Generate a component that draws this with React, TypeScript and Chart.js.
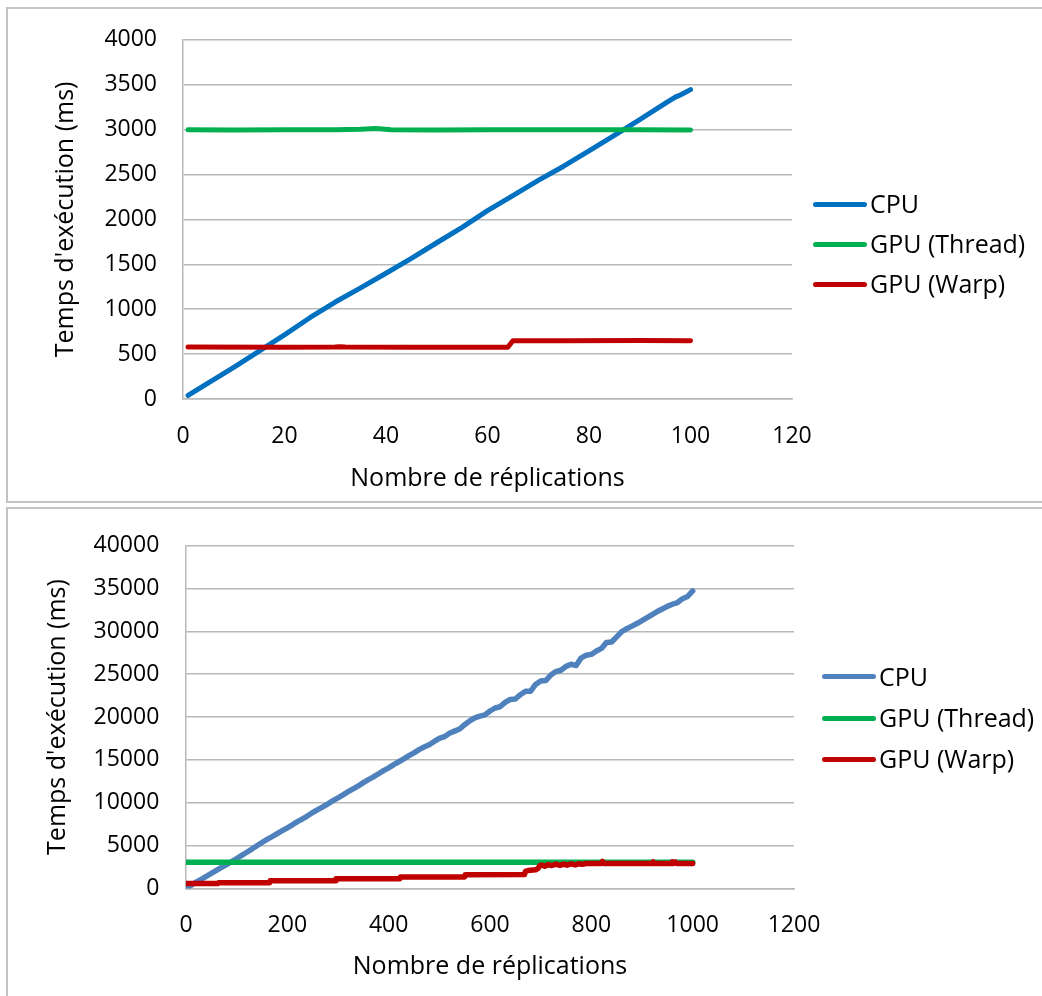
import React, { useEffect, useRef } from "react";
import { Chart, registerables } from "chart.js";

Chart.register(...registerables);

const FONT_FAMILY = "'Open Sans', 'Noto Sans', 'DejaVu Sans', sans-serif";
const TEXT_COLOR = "#000000";
const GRID_COLOR = "#B8B8B8";
const FRAME_COLOR = "#C4C4C4";
const TICK_SIZE = 23;
const TITLE_SIZE = 25;
const PAGE_W = 1042;

const SERIES_NAMES = ["CPU", "GPU (Thread)", "GPU (Warp)"];
const X_TITLE = "Nombre de réplications";
const Y_TITLE = "Temps d'exécution (ms)";

// ---------- Top chart (1 to 100 replications) ----------
const topCpuX = [1, 5, 10, 15, 20, 25, 30, 35, 40, 45, 50, 55, 60, 65, 70, 75, 80, 85, 90, 95, 97, 98, 100];
const topCpuY = [40, 180, 352, 532, 715, 905, 1080, 1238, 1400, 1566, 1740, 1912, 2097, 2265, 2434, 2592, 2764, 2935, 3112, 3293, 3362, 3386, 3445];

const topThreadX = [1, 10, 20, 30, 35, 38, 41, 50, 60, 70, 80, 90, 100];
const topThreadY = [2998, 2996, 2999, 2998, 3004, 3012, 2999, 2996, 2998, 2997, 2999, 2997, 2996];

const topWarpX = [1, 20, 30, 31, 32, 45, 64, 65, 75, 90, 100];
const topWarpY = [578, 577, 578, 582, 578, 576, 577, 648, 650, 652, 650];

const topXMax = 120;
const topXStep = 20;
const topYMax = 4000;
const topYStep = 500;

// ---------- Bottom chart (0 to 1000 replications) ----------
const bottomCpuX = [
  0, 10, 20, 30, 40, 50, 60, 70, 80, 90,
  100, 110, 120, 130, 140, 150, 160, 170, 180, 190,
  200, 210, 220, 230, 240, 250, 260, 270, 280, 290,
  300, 310, 320, 330, 340, 350, 360, 370, 380, 390,
  400, 410, 420, 430, 440, 450, 460, 470, 480, 490,
  500, 510, 520, 530, 540, 550, 560, 570, 580, 590,
  600, 610, 620, 630, 640, 650, 660, 670, 680, 690,
  700, 710, 720, 730, 740, 750, 760, 770, 780, 790,
  800, 810, 820, 830, 840, 850, 860, 870, 880, 890,
  900, 910, 920, 930, 940, 950, 960, 970, 980, 990,
  1000,
];
const bottomCpuY = [
  40, 380, 730, 1070, 1420, 1760, 2110, 2450, 2790, 3140,
  3500, 3860, 4230, 4600, 4990, 5360, 5720, 6050, 6400, 6740,
  7080, 7430, 7800, 8130, 8480, 8860, 9190, 9520, 9880, 10240,
  10580, 10930, 11290, 11630, 11960, 12350, 12700, 13010, 13380, 13740,
  14070, 14450, 14780, 15120, 15500, 15820, 16200, 16500, 16760, 17150,
  17500, 17700, 18100, 18350, 18600, 19100, 19550, 19900, 20100, 20250,
  20700, 21050, 21200, 21700, 22050, 22100, 22600, 23000, 23000, 23800,
  24200, 24250, 24900, 25300, 25450, 25900, 26150, 26000, 26900, 27200,
  27300, 27700, 28000, 28700, 28750, 29350, 29950, 30300, 30600, 30900,
  31250, 31600, 31950, 32300, 32600, 32900, 33150, 33350, 33800, 34050,
  34700,
];

const bottomThreadX = [0, 250, 500, 750, 1000];
const bottomThreadY = [3050, 3050, 3050, 3050, 3050];

const bottomWarpX = [
  0, 63, 64, 165, 166, 295, 296, 422, 423, 550, 551, 668, 670, 675, 690, 695,
  698, 702, 708, 715, 722, 730, 738, 745, 752, 760, 768, 775, 782, 790,
  820, 822, 824, 920, 922, 924, 958, 960, 962, 966, 968, 1000,
];
const bottomWarpY = [
  580, 580, 660, 660, 900, 900, 1130, 1130, 1350, 1350, 1600, 1620, 2000, 2100, 2180, 2350,
  2650, 2750, 2600, 2800, 2680, 2850, 2700, 2850, 2720, 2870, 2750, 2880, 2820, 2920,
  2920, 3150, 2920, 2920, 3100, 2920, 2920, 3100, 2920, 3080, 2920, 2920,
];

const bottomXMax = 1200;
const bottomXStep = 200;
const bottomYMax = 40000;
const bottomYStep = 5000;

const TOP_COLORS = ["#0070C0", "#00B050", "#C00000"];
const BOTTOM_COLORS = ["#4F81BD", "#00B050", "#C00000"];

function makePoints(xs: number[], ys: number[]) {
  return xs.map((x, i) => ({ x, y: ys[i] }));
}

type Geometry = {
  canvasHeight: number;
  plotLeft: number;
  plotRight: number;
  plotTop: number;
  plotBottom: number;
  xTickPad: number;
  yTickPad: number;
  xTitleCenterY: number;
  yTitleCenterX: number;
};

function buildConfig(
  g: Geometry,
  datasets: any[],
  xMax: number,
  xStep: number,
  yMax: number,
  yStep: number
): any {
  const lh = TITLE_SIZE * 1.2;
  const xAxisHeight = g.xTitleCenterY + lh / 2 - g.plotBottom;
  const tickFont = { family: FONT_FAMILY, size: TICK_SIZE };
  const titleFont = { family: FONT_FAMILY, size: TITLE_SIZE };
  return {
    type: "line",
    data: { datasets },
    options: {
      animation: false,
      responsive: false,
      maintainAspectRatio: false,
      devicePixelRatio: 1,
      layout: {
        padding: {
          left: 0,
          top: g.plotTop,
          right: PAGE_W - g.plotRight,
          bottom: g.canvasHeight - g.plotBottom - xAxisHeight,
        },
      },
      plugins: {
        legend: { display: false },
        tooltip: { enabled: false },
        title: { display: false },
      },
      elements: {
        point: { radius: 0, hoverRadius: 0 },
        line: { tension: 0, borderCapStyle: "round", borderJoinStyle: "round" },
      },
      scales: {
        x: {
          type: "linear",
          min: 0,
          max: xMax,
          ticks: {
            stepSize: xStep,
            padding: g.xTickPad,
            font: tickFont,
            color: TEXT_COLOR,
            maxRotation: 0,
            autoSkip: false,
            callback: (v: number) => String(v),
          },
          grid: { display: false, drawTicks: false },
          border: { display: true, color: GRID_COLOR, width: 1.5 },
          title: {
            display: true,
            text: X_TITLE,
            font: titleFont,
            color: TEXT_COLOR,
            padding: { top: 0, bottom: 0 },
          },
          afterFit: (s: any) => {
            s.height = xAxisHeight;
          },
        },
        y: {
          type: "linear",
          min: 0,
          max: yMax,
          ticks: {
            stepSize: yStep,
            padding: g.yTickPad,
            font: tickFont,
            color: TEXT_COLOR,
            callback: (v: number) => String(v),
          },
          grid: { color: GRID_COLOR, lineWidth: 1.5, drawTicks: false },
          border: { display: true, color: GRID_COLOR, width: 1.5 },
          title: {
            display: true,
            text: Y_TITLE,
            font: titleFont,
            color: TEXT_COLOR,
            padding: { top: g.yTitleCenterX - lh / 2, bottom: 0 },
          },
          afterFit: (s: any) => {
            s.width = g.plotLeft;
          },
        },
      },
    },
  };
}

function makeDatasets(
  colors: string[],
  width: number,
  cpu: { x: number; y: number }[],
  thread: { x: number; y: number }[],
  warp: { x: number; y: number }[]
) {
  return [
    { label: SERIES_NAMES[0], data: cpu, borderColor: colors[0], backgroundColor: colors[0], borderWidth: width, order: 2, pointRadius: 0 },
    { label: SERIES_NAMES[1], data: thread, borderColor: colors[1], backgroundColor: colors[1], borderWidth: width, order: 1, pointRadius: 0 },
    { label: SERIES_NAMES[2], data: warp, borderColor: colors[2], backgroundColor: colors[2], borderWidth: width, order: 0, pointRadius: 0 },
  ];
}

function ChartCanvas({ config, top, height }: { config: any; top: number; height: number }) {
  const ref = useRef<HTMLCanvasElement | null>(null);
  useEffect(() => {
    if (!ref.current) return;
    const chart = new Chart(ref.current, config);
    return () => chart.destroy();
  }, []);
  return (
    <canvas
      ref={ref}
      width={PAGE_W}
      height={height}
      style={{ position: "absolute", left: 0, top, width: PAGE_W, height, zIndex: 2 }}
    />
  );
}

function Legend({
  lineLeft,
  lineWidth,
  textLeft,
  centers,
  colors,
}: {
  lineLeft: number;
  lineWidth: number;
  textLeft: number;
  centers: number[];
  colors: string[];
}) {
  return (
    <>
      {SERIES_NAMES.map((name, i) => (
        <React.Fragment key={name}>
          <div
            style={{
              position: "absolute",
              left: lineLeft,
              top: centers[i] - 2.5,
              width: lineWidth,
              height: 5,
              borderRadius: 2.5,
              background: colors[i],
              zIndex: 3,
            }}
          />
          <div
            style={{
              position: "absolute",
              left: textLeft,
              top: centers[i] - 16,
              height: 30,
              lineHeight: "30px",
              fontFamily: FONT_FAMILY,
              fontSize: TITLE_SIZE,
              color: TEXT_COLOR,
              whiteSpace: "nowrap",
              zIndex: 3,
            }}
          >
            {name}
          </div>
        </React.Fragment>
      ))}
    </>
  );
}

const topGeom: Geometry = {
  canvasHeight: 502,
  plotLeft: 183,
  plotRight: 792,
  plotTop: 36,
  plotBottom: 399,
  xTickPad: 24,
  yTickPad: 26,
  xTitleCenterY: 479,
  yTitleCenterX: 66,
};

const BOTTOM_CANVAS_TOP = 505;
const bottomGeom: Geometry = {
  canvasHeight: 491,
  plotLeft: 186,
  plotRight: 794,
  plotTop: 536.7 - BOTTOM_CANVAS_TOP,
  plotBottom: 888.5 - BOTTOM_CANVAS_TOP,
  xTickPad: 23,
  yTickPad: 26.7,
  xTitleCenterY: 967 - BOTTOM_CANVAS_TOP,
  yTitleCenterX: 57.5,
};

export default function App() {
  const topConfig = buildConfig(
    topGeom,
    makeDatasets(
      TOP_COLORS,
      5,
      makePoints(topCpuX, topCpuY),
      makePoints(topThreadX, topThreadY),
      makePoints(topWarpX, topWarpY)
    ),
    topXMax,
    topXStep,
    topYMax,
    topYStep
  );
  const bottomConfig = buildConfig(
    bottomGeom,
    makeDatasets(
      BOTTOM_COLORS,
      5.5,
      makePoints(bottomCpuX, bottomCpuY),
      makePoints(bottomThreadX, bottomThreadY),
      makePoints(bottomWarpX, bottomWarpY)
    ),
    bottomXMax,
    bottomXStep,
    bottomYMax,
    bottomYStep
  );

  return (
    <div
      style={{
        position: "fixed",
        left: 0,
        top: 0,
        width: PAGE_W,
        height: 996,
        overflow: "hidden",
        background: "#ffffff",
      }}
    >
      <div
        style={{
          position: "absolute",
          left: 6,
          top: 7,
          width: 1100,
          height: 496,
          boxSizing: "border-box",
          border: `2px solid ${FRAME_COLOR}`,
          zIndex: 1,
        }}
      />
      <div
        style={{
          position: "absolute",
          left: 6,
          top: 507,
          width: 1100,
          height: 600,
          boxSizing: "border-box",
          border: `2px solid ${FRAME_COLOR}`,
          zIndex: 1,
        }}
      />
      <ChartCanvas config={topConfig} top={0} height={topGeom.canvasHeight} />
      <ChartCanvas config={bottomConfig} top={BOTTOM_CANVAS_TOP} height={bottomGeom.canvasHeight} />
      <Legend lineLeft={813} lineWidth={54} textLeft={870} centers={[204, 244.3, 284.3]} colors={TOP_COLORS} />
      <Legend lineLeft={822} lineWidth={54} textLeft={879} centers={[676.7, 718.3, 759.3]} colors={BOTTOM_COLORS} />
    </div>
  );
}
